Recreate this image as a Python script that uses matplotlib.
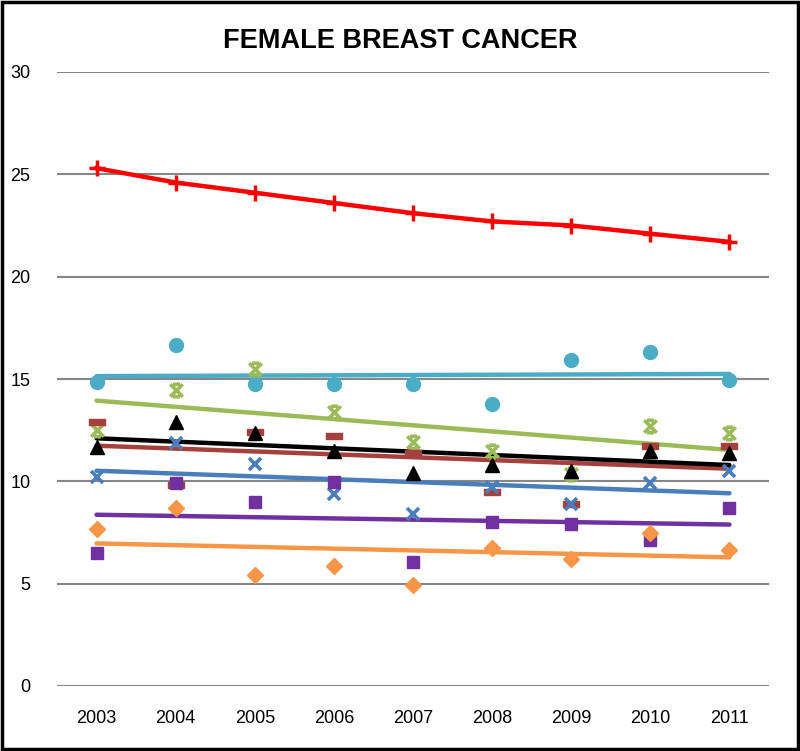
import numpy as np
import matplotlib
matplotlib.use("Agg")
import matplotlib.pyplot as plt
from matplotlib.path import Path
from matplotlib.patches import Rectangle

plt.rcParams['font.family'] = ['Liberation Sans', 'DejaVu Sans']

years = [2003, 2004, 2005, 2006, 2007, 2008, 2009, 2010, 2011]

red_plus = [25.3, 24.6, 24.1, 23.6, 23.1, 22.7, 22.5, 22.1, 21.7]
cyan_circle = [14.85, 16.65, 14.75, 14.75, 14.75, 13.8, 15.95, 16.3, 14.95]
green_star = [12.5, 14.45, 15.5, 13.4, 11.9, 11.5, 10.35, 12.7, 12.35]
brown_dash = [12.9, 9.8, 12.4, 12.2, 11.4, 9.5, 8.9, 11.75, 11.75]
black_tri = [11.7, 12.9, 12.35, 11.5, 10.4, 10.8, 10.5, 11.5, 11.4]
blue_x = [10.2, 11.85, 10.85, 9.4, 8.4, 9.7, 8.9, 9.9, 10.5]
purple_sq = [6.5, 9.9, 9.0, 9.95, 6.05, 8.0, 7.9, 7.15, 8.7]
orange_dia = [7.65, 8.7, 5.4, 5.85, 4.93, 6.75, 6.2, 7.5, 6.65]

yticks = [0, 5, 10, 15, 20, 25, 30]

# Excel-style "star" marker: an X with short caps top and bottom
star = Path([(-1, -1), (1, 1), (-1, 1), (1, -1), (-0.55, 1), (0.55, 1), (-0.55, -1), (0.55, -1)],
            [Path.MOVETO, Path.LINETO] * 4)
dash = Path([(-1, -0.35), (1, -0.35), (1, 0.35), (-1, 0.35), (-1, -0.35)],
            [Path.MOVETO, Path.LINETO, Path.LINETO, Path.LINETO, Path.CLOSEPOLY])

# (values, colour, marker, size, filled)
series = [
    (cyan_circle, '#4BACC6', 'o', 10, True),
    (green_star, '#9BBB59', star, 9, False),
    (brown_dash, '#A5403D', dash, 11, True),
    (black_tri, '#000000', '^', 9.5, True),
    (blue_x, '#4A7EBB', 'x', 9, False),
    (purple_sq, '#7030A0', 's', 9, True),
    (orange_dia, '#F79646', 'D', 8.5, True),
]

fig = plt.figure(figsize=(8, 7.51), dpi=100)
ax = fig.add_axes([57 / 800, 1 - 686 / 751, 712 / 800, 614 / 751])

x = np.array(years, dtype=float)
for vals, col, mk, ms, filled in series:
    slope, icpt = np.polyfit(x, vals, 1)
    ax.plot(x, slope * x + icpt, color=col, lw=3.2, solid_capstyle='round', zorder=3)
for vals, col, mk, ms, filled in series:
    if filled:
        ax.plot(x, vals, ls='none', marker=mk, ms=ms, color=col, mec=col, zorder=4)
    else:
        ax.plot(x, vals, ls='none', marker=mk, ms=ms, color=col, mew=2.6, zorder=4)

ax.plot(x, red_plus, color='#FF0000', lw=3.2, marker='+', ms=11, mew=2.5, zorder=5)

ax.set_xlim(2002.5, 2011.5)
ax.set_ylim(0, 30)
ax.set_xticks(years)
ax.set_yticks(yticks)
ax.tick_params(length=0, labelsize=13)
ax.tick_params(axis='x', pad=17)
ax.tick_params(axis='y', pad=19)
ax.yaxis.grid(True, color='#868686', lw=1.5)
ax.set_axisbelow(True)
for s in ax.spines.values():
    s.set_visible(False)

fig.text(0.5, 1 - 41 / 751, 'FEMALE BREAST CANCER', ha='center', va='center',
         fontsize=19.5, fontweight='bold')

fig.patches.append(Rectangle((0.002, 0.002), 0.996, 0.996, transform=fig.transFigure,
                             fill=False, ec='black', lw=2.5))

fig.savefig('out.png', dpi=100)
